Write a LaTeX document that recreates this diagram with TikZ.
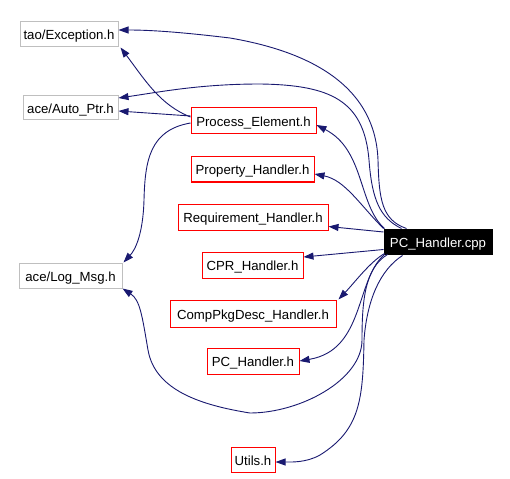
\documentclass[tikz,border=0pt]{standalone}
\usepackage{fontspec}
\setmainfont{Liberation Sans}
\usetikzlibrary{arrows.meta,calc}
\definecolor{edgeblue}{HTML}{191970}
\definecolor{boxgray}{HTML}{BFBFBF}
\definecolor{boxred}{HTML}{FF0000}
\tikzset{
  filebox/.style={draw, line width=1pt, inner sep=0pt, minimum height=25pt,
    text height=11pt, text depth=0pt,
    font=\fontsize{13.2}{15}\selectfont, text=black, fill=white},
  extbox/.style={filebox, draw=boxgray},
  localbox/.style={filebox, draw=boxred},
  rootbox/.style={filebox, draw=black, fill=black, text=white},
  dep/.style={draw=edgeblue, line width=0.9pt, -{Triangle[length=10pt,width=7pt,fill=edgeblue]}}
}
\begin{document}
\begin{tikzpicture}[x=1pt,y=-1pt]
\useasboundingbox (0,0) rectangle (510,478);
% nodes
\node[extbox, minimum width=98pt] (exc) at (69,34.5) {tao/Exception.h};
\node[extbox, minimum width=95pt, minimum height=24pt] (auto) at (70.5,108) {ace/Auto\_Ptr.h};
\node[extbox, minimum width=103pt] (log) at (70.5,275.5) {ace/Log\_Msg.h};
\node[localbox, minimum width=125pt, minimum height=26pt] (pe) at (253.5,121) {Process\_Element.h};
\node[localbox, minimum width=123pt] (prop) at (252.5,169.5) {Property\_Handler.h};
\node[localbox, minimum width=150pt, minimum height=26pt] (req) at (253,217) {Requirement\_Handler.h};
\node[localbox, minimum width=101pt, minimum height=26pt] (cpr) at (252.5,265) {CPR\_Handler.h};
\node[localbox, minimum width=166pt, minimum height=27pt] (comp) at (253,313.5) {CompPkgDesc\_Handler.h};
\node[localbox, minimum width=92pt, minimum height=26pt] (pch) at (253,361) {PC\_Handler.h};
\node[localbox, minimum width=44pt] (utils) at (253,459.5) {Utils.h};
\node[rootbox, minimum width=108pt] (cpp) at (438,241.5) {PC\_Handler.cpp};
% edges from PC_Handler.cpp
\draw[dep] ($(cpp.north west)+(23,0)$) .. controls (382,220) and (379,200) .. (378,160)
  .. controls (375,80) and (300,50) .. (230,38)
  .. controls (180,32) and (150,30) .. ($(exc.east)+(0,-4.5)$);
\draw[dep] ($(cpp.north west)+(18,0)$) .. controls (380,218) and (372,200) .. (369,160)
  .. controls (364,100) and (330,85) .. (260,84)
  .. controls (200,84) and (160,92) .. ($(auto.east)+(0,-10)$);
\draw[dep] ($(cpp.north west)+(1,0)$) .. controls (358,205) and (365,150) .. ($(pe.east)+(0,4)$);
\draw[dep] (cpp.north west) .. controls (360,205) and (345,180) .. ($(prop.east)+(0,4.5)$);
\draw[dep] ($(cpp.west)+(0,-9.5)$) -- ($(req.east)+(0,9.5)$);
\draw[dep] ($(cpp.west)+(0,8)$) -- ($(cpr.east)+(0,-8)$);
\draw[dep] ($(cpp.south west)+(1,-1)$) .. controls (370,262) and (355,282) .. ($(comp.north east)+(2,0)$);
\draw[dep] ($(cpp.south west)+(1,0)$) .. controls (355,280) and (365,350) .. (pch.east);
\draw[dep] ($(cpp.south west)+(4,0)$) .. controls (365,268) and (362,300) .. (362,340)
  .. controls (362,380) and (300,413) .. (250,413)
  .. controls (200,405) and (155,390) .. (148,350)
  .. controls (142,315) and (140,300) .. (log.south east);
\draw[dep] ($(cpp.south west)+(19,1)$) .. controls (380,270) and (367,300) .. (364,340)
  .. controls (363,400) and (360,430) .. (320,455)
  .. controls (306,463) and (290,462) .. ($(utils.east)+(0,2.5)$);
% edges from Process_Element.h
\draw[dep] ($(pe.west)+(0,-4)$) .. controls (160,105) and (145,80) .. ($(exc.south east)+(2,0)$);
\draw[dep] ($(pe.west)+(0,-5)$) -- ($(auto.east)+(0,3)$);
\draw[dep] ($(pe.west)+(0,2)$) .. controls (150,130) and (145,160) .. (144,200)
  .. controls (143,235) and (135,250) .. ($(log.north east)+(1,0)$);
\end{tikzpicture}
\end{document}
